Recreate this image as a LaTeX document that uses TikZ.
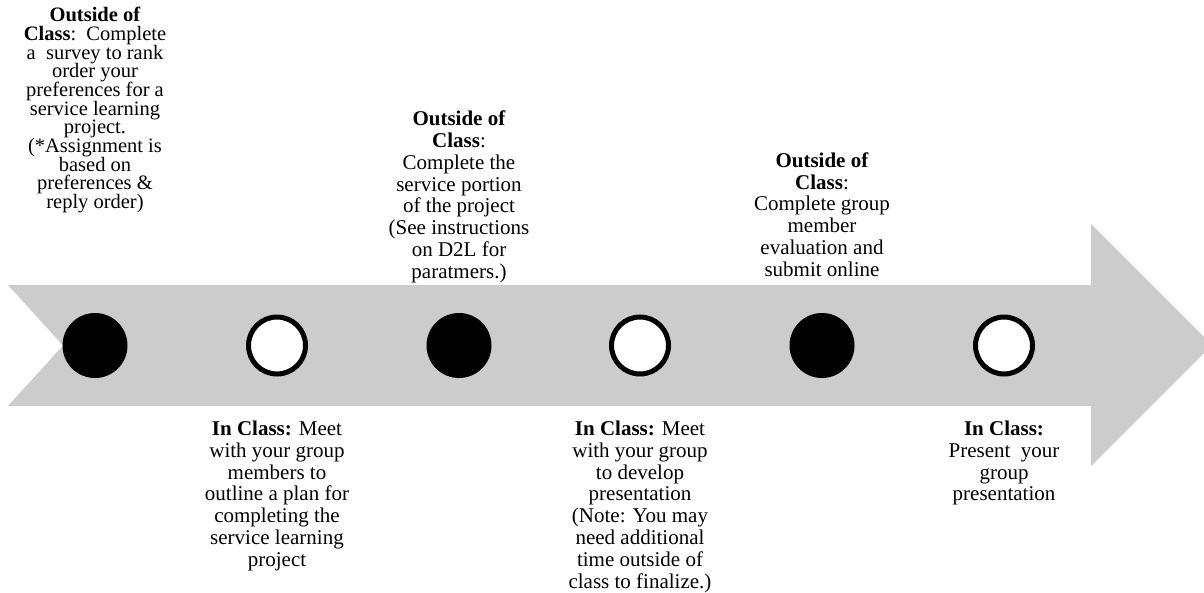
\documentclass[tikz,border=0pt]{standalone}
\usepackage{fontspec}
\setmainfont{Liberation Serif}
\definecolor{arrowgray}{RGB}{204,204,204}
\newcommand\mytightlines{\lineskiplimit=-30pt\relax\lineskip=0pt\relax}
\tikzset{
  x=1pt, y=1pt,
  txt/.style={align=center, inner sep=0pt, font=\fontsize{21}{21.8}\selectfont},
  txtone/.style={align=center, inner sep=0pt, font=\fontsize{20.5}{18.7}\selectfont\mytightlines},
  fullcirc/.style={circle, fill=black, minimum size=65pt, inner sep=0pt},
  hollowcirc/.style={circle, fill=white, draw=black, line width=5pt, minimum size=57pt, inner sep=0pt},
}
\begin{document}
\begin{tikzpicture}
\useasboundingbox (0,0) rectangle (1204,-592);
% big arrow
\fill[arrowgray] (8,-285) -- (1091,-285) -- (1091,-224) -- (1212,-345) -- (1091,-466) -- (1091,-406) -- (8,-406) -- (63,-345.5) -- cycle;
% circles
\node[fullcirc]   (c1) at (95,-345.5) {};
\node[hollowcirc] (c2) at (277,-345.5) {};
\node[fullcirc]   (c3) at (459,-345.5) {};
\node[hollowcirc] (c4) at (640,-345.5) {};
\node[fullcirc]   (c5) at (822,-345.5) {};
\node[hollowcirc] (c6) at (1004,-345.5) {};
% top texts
\node[txtone, anchor=north] (t1) at (95,-7) {\strut\textbf{Outside of}\\\textbf{Class}:\ \ Complete\\a\ \ survey to rank\\order your\\preferences for a\\service learning\\project.\\(*Assignment is\\based on\\preferences \&\\reply order)};
\node[txt, anchor=south] (t2) at (459,-285) {\textbf{Outside of}\\\textbf{Class}:\\Complete the\\service portion\\of the project\\(See instructions\\on D2L for\\paratmers.)\strut};
\node[txt, anchor=south] (t3) at (822,-283) {\textbf{Outside of}\\\textbf{Class}:\\Complete group\\member\\evaluation and\\submit online\strut};
% bottom texts
\node[txt, anchor=north] (t4) at (277,-420) {\strut\textbf{In Class:} Meet\\with your group\\members to\\outline a plan for\\completing the\\service learning\\project};
\node[txt, anchor=north] (t5) at (640,-420) {\strut\textbf{In Class:} Meet\\with your group\\to develop\\presentation\\(Note: You may\\need additional\\time outside of\\class to finalize.)};
\node[txt, anchor=north] (t6) at (1004,-420) {\strut\textbf{In Class:}\\Present\ \ your\\group\\presentation};
\end{tikzpicture}
\end{document}
